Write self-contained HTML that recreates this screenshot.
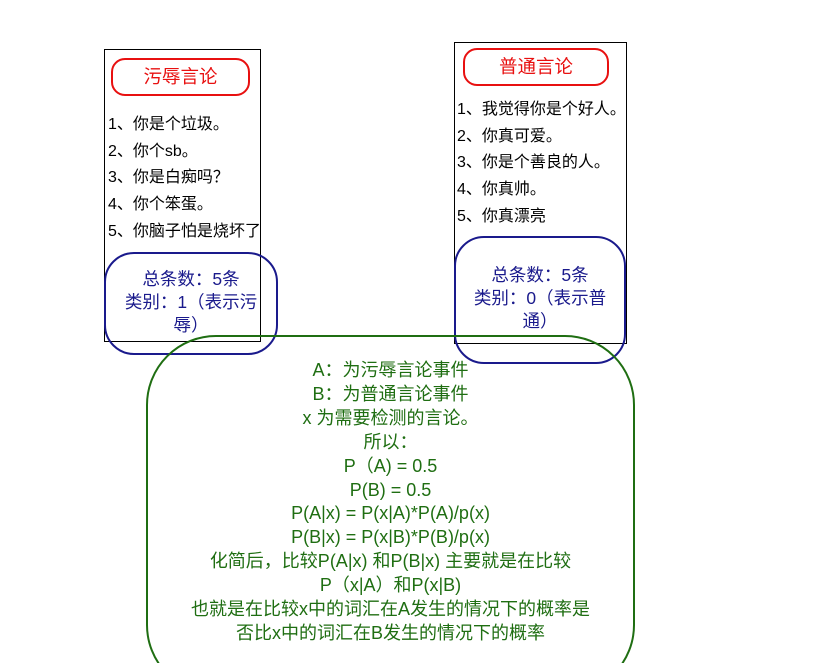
<!DOCTYPE html>
<html style="width:815px;height:663px;overflow:hidden;"><head><meta charset="utf-8"><style>
body{margin:0;width:815px;height:663px;background:#fff;position:relative;overflow:hidden;font-family:"Liberation Sans","Noto Sans CJK SC",sans-serif;}
.a{position:absolute;box-sizing:border-box;}
.items div{height:26.7px;line-height:26.7px;font-size:16px;color:#000;white-space:nowrap;}
.c{text-align:center;}
</style></head><body>
<div class="a" style="left:104px;top:49px;width:157px;height:293px;border:1px solid #000;"></div>
<div class="a" style="left:454px;top:42px;width:173px;height:302px;border:1px solid #000;"></div>
<div class="a c" style="left:111px;top:58px;width:139px;height:38px;border:2px solid #e81010;border-radius:14px;color:#e81010;font-size:18.5px;line-height:33px;">污辱言论</div>
<div class="a c" style="left:463px;top:48px;width:146px;height:38px;border:2px solid #e81010;border-radius:14px;color:#e81010;font-size:18.5px;line-height:33px;">普通言论</div>
<div class="a items" style="left:108px;top:112px;">
<div>1、你是个垃圾。</div><div>2、你个sb。</div><div>3、你是白痴吗？</div><div>4、你个笨蛋。</div><div>5、你脑子怕是烧坏了</div></div>
<div class="a items" style="left:457px;top:97px;">
<div>1、我觉得你是个好人。</div><div>2、你真可爱。</div><div>3、你是个善良的人。</div><div>4、你真帅。</div><div>5、你真漂亮</div></div>
<div class="a c" style="left:104px;top:252px;width:174px;height:103px;border:2px solid #1a1a8c;border-radius:30px;color:#1a1a8c;font-size:17.5px;line-height:23px;padding:14px 14px 0;">总条数：5条<br>类别：1（表示污辱）</div>
<div class="a c" style="left:454px;top:236px;width:172px;height:128px;border:2px solid #1a1a8c;border-radius:30px;color:#1a1a8c;font-size:17.5px;line-height:23px;padding:26px 14px 0;">总条数：5条<br>类别：0（表示普通）</div>
<div class="a c" style="left:146px;top:335px;width:489px;height:360px;border:2px solid #1f6e12;border-radius:70px;color:#1f6e12;font-size:18px;line-height:23.9px;padding-top:22px;white-space:nowrap;">
A：为污辱言论事件<br>B：为普通言论事件<br>x 为需要检测的言论。<br>所以：<br>P（A) = 0.5<br>P(B) = 0.5<br>P(A|x) = P(x|A)*P(A)/p(x)<br>P(B|x) = P(x|B)*P(B)/p(x)<br>化简后，比较P(A|x) 和P(B|x) 主要就是在比较<br>P（x|A）和P(x|B)<br>也就是在比较x中的词汇在A发生的情况下的概率是<br>否比x中的词汇在B发生的情况下的概率</div>
</body></html>
